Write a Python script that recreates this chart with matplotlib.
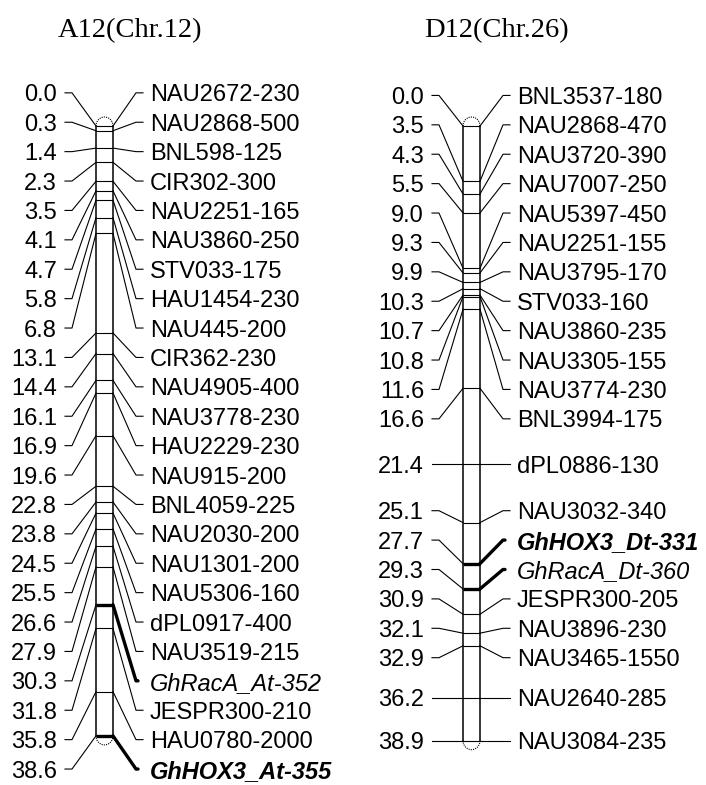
import numpy as np
import matplotlib.pyplot as plt

# genetic maps of the two homoeologous chromosomes (positions in cM)
a12_pos = [0.0, 0.3, 1.4, 2.3, 3.5, 4.1, 4.7, 5.8, 6.8, 13.1, 14.4, 16.1,
           16.9, 19.6, 22.8, 23.8, 24.5, 25.5, 26.6, 27.9, 30.3, 31.8, 35.8, 38.6]
a12_names = ['NAU2672-230', 'NAU2868-500', 'BNL598-125', 'CIR302-300',
             'NAU2251-165', 'NAU3860-250', 'STV033-175', 'HAU1454-230',
             'NAU445-200', 'CIR362-230', 'NAU4905-400', 'NAU3778-230',
             'HAU2229-230', 'NAU915-200', 'BNL4059-225', 'NAU2030-200',
             'NAU1301-200', 'NAU5306-160', 'dPL0917-400', 'NAU3519-215',
             'GhRacA_At-352', 'JESPR300-210', 'HAU0780-2000', 'GhHOX3_At-355']

d12_pos = [0.0, 3.5, 4.3, 5.5, 9.0, 9.3, 9.9, 10.3, 10.7, 10.8, 11.6, 16.6,
           21.4, 25.1, 27.7, 29.3, 30.9, 32.1, 32.9, 36.2, 38.9]
d12_names = ['BNL3537-180', 'NAU2868-470', 'NAU3720-390', 'NAU7007-250',
             'NAU5397-450', 'NAU2251-155', 'NAU3795-170', 'STV033-160',
             'NAU3860-235', 'NAU3305-155', 'NAU3774-230', 'BNL3994-175',
             'dPL0886-130', 'NAU3032-340', 'GhHOX3_Dt-331', 'GhRacA_Dt-360',
             'JESPR300-205', 'NAU3896-230', 'NAU3465-1550', 'NAU2640-285',
             'NAU3084-235']

plt.rcParams['font.family'] = ['Liberation Sans', 'DejaVu Sans']

W, H = 706, 785
PX_PER_CM = 15.8
TOP_PX = 126
LABEL_GAP = 29.4 / PX_PER_CM

fig = plt.figure(figsize=(W / 100, H / 100), dpi=100)
ax = fig.add_axes([0, 0, 1, 1])
ax.set_xlim(0, W)
ax.set_ylim((H - TOP_PX) / PX_PER_CM, -TOP_PX / PX_PER_CM)
ax.axis('off')


def spread_labels(pos, gap):
    # group crowded labels, each group centred between its first and last marker
    pos = np.asarray(pos, dtype=float)
    groups = [[i] for i in range(len(pos))]

    def place(g):
        centre = (pos[g[0]] + pos[g[-1]]) / 2
        return centre - (len(g) - 1) * gap / 2 + gap * np.arange(len(g))

    merged = True
    while merged:
        merged = False
        for k in range(len(groups) - 1):
            if place(groups[k + 1])[0] - place(groups[k])[-1] < gap - 1e-9:
                groups[k] = groups[k] + groups[k + 1]
                del groups[k + 1]
                merged = True
                break
    return np.concatenate([place(g) for g in groups])


def draw_chrom(cx, pos, names, title):
    half = 8.5
    end = pos[-1]
    lab = spread_labels(pos, LABEL_GAP)

    # chromosome body with rounded tips
    ax.plot([cx - half, cx - half], [0, end], color='k', lw=1.1)
    ax.plot([cx + half, cx + half], [0, end], color='k', lw=1.1)
    t = np.linspace(0, np.pi, 40)
    cap = 9 / PX_PER_CM
    ax.plot(cx + half * np.cos(t), -cap * np.sin(t), color='k', lw=0.8, ls=(0, (1, 1)))
    ax.plot(cx + half * np.cos(t), end + cap * np.sin(t), color='k', lw=0.8, ls=(0, (1, 1)))

    for p, ly, name in zip(pos, lab, names):
        gene = name.startswith('Gh')
        lw = 2.4 if gene else 0.8
        ax.plot([cx - 39.5, cx - 32.5, cx - half], [ly, ly, p], color='k', lw=0.8)
        ax.plot([cx - half, cx + half], [p, p], color='k', lw=lw, solid_capstyle='butt')
        if gene:
            ax.plot([cx + half, cx + 31.5, cx + 33.5], [p, ly, ly], color='k', lw=lw,
                    solid_capstyle='round', solid_joinstyle='round')
        else:
            ax.plot([cx + half, cx + 31.5, cx + 38.5], [p, ly, ly], color='k', lw=lw)
        ax.text(cx - 47.5, ly, f'{p:.1f}', ha='right', va='center_baseline', fontsize=17)
        ax.text(cx + 45.5, ly, name, ha='left', va='center_baseline', fontsize=17,
                style='italic' if gene else 'normal',
                weight='bold' if 'HOX3' in name else 'normal')

    ax.text(cx + 25, (28 - TOP_PX) / PX_PER_CM, title, ha='center', va='center_baseline',
            fontsize=20.5, family='Liberation Serif')


draw_chrom(104.5, a12_pos, a12_names, 'A12(Chr.12)')
draw_chrom(471.5, d12_pos, d12_names, 'D12(Chr.26)')

fig.savefig('out.png', dpi=100, facecolor='white')
